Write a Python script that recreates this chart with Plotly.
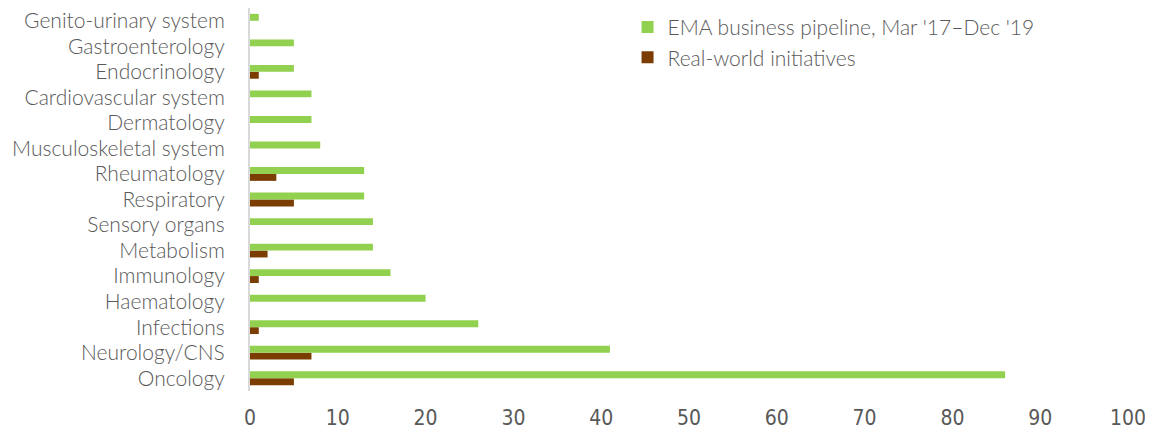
import plotly.graph_objects as go

categories = ["Oncology", "Neurology/CNS", "Infections", "Haematology", "Immunology",
              "Metabolism", "Sensory organs", "Respiratory", "Rheumatology",
              "Musculoskeletal system", "Dermatology", "Cardiovascular system",
              "Endocrinology", "Gastroenterology", "Genito-urinary system"]
ema_pipeline = [86, 41, 26, 20, 16, 14, 14, 13, 13, 8, 7, 7, 5, 5, 1]
real_world = [5, 7, 1, 0, 1, 2, 0, 5, 3, 0, 0, 0, 1, 0, 0]
x_ticks = [0, 10, 20, 30, 40, 50, 60, 70, 80, 90, 100]

GREEN = "#92D050"
BROWN = "#7B3D02"
GRAY = "#595959"

fig = go.Figure()
fig.add_trace(go.Bar(y=categories, x=real_world, orientation="h",
                     name="Real-world initiatives", marker_color=BROWN,
                     marker_line_width=0))
fig.add_trace(go.Bar(y=categories, x=ema_pipeline, orientation="h",
                     name="EMA business pipeline, Mar '17\u2013Dec '19", marker_color=GREEN,
                     marker_line_width=0))

fig.update_layout(
    width=1145, height=428,
    margin=dict(l=242, r=25, t=0, b=45, autoexpand=False),
    paper_bgcolor="white", plot_bgcolor="white",
    barmode="group", bargap=0.46, bargroupgap=0,
    font=dict(family="Lato", color=GRAY, size=20, weight=300),
    legend=dict(x=0.43, y=1.003, xanchor="left", yanchor="top",
                traceorder="reversed", font=dict(size=21, color=GRAY, weight=300),
                bgcolor="rgba(0,0,0,0)", itemwidth=30, tracegroupgap=0),
    showlegend=True,
)
fig.update_xaxes(range=[0, 100], tickvals=x_ticks, showgrid=False, zeroline=False,
                 showline=False, ticks="outside", ticklen=8, automargin=False,
                 tickcolor="rgba(0,0,0,0)",
                 tickfont=dict(family="DejaVu Sans Condensed", size=21, color=GRAY))
fig.update_yaxes(type="category", categoryorder="array", categoryarray=categories,
                 tickmode="array", tickvals=categories, ticktext=categories,
                 showgrid=False, zeroline=False, showline=True, linecolor="#D9D9D9",
                 linewidth=2, ticks="outside", ticklen=19, tickcolor="rgba(0,0,0,0)",
                 automargin=False,
                 tickfont=dict(family="Lato", size=21, color=GRAY, weight=300))

fig.write_html("out.html")
